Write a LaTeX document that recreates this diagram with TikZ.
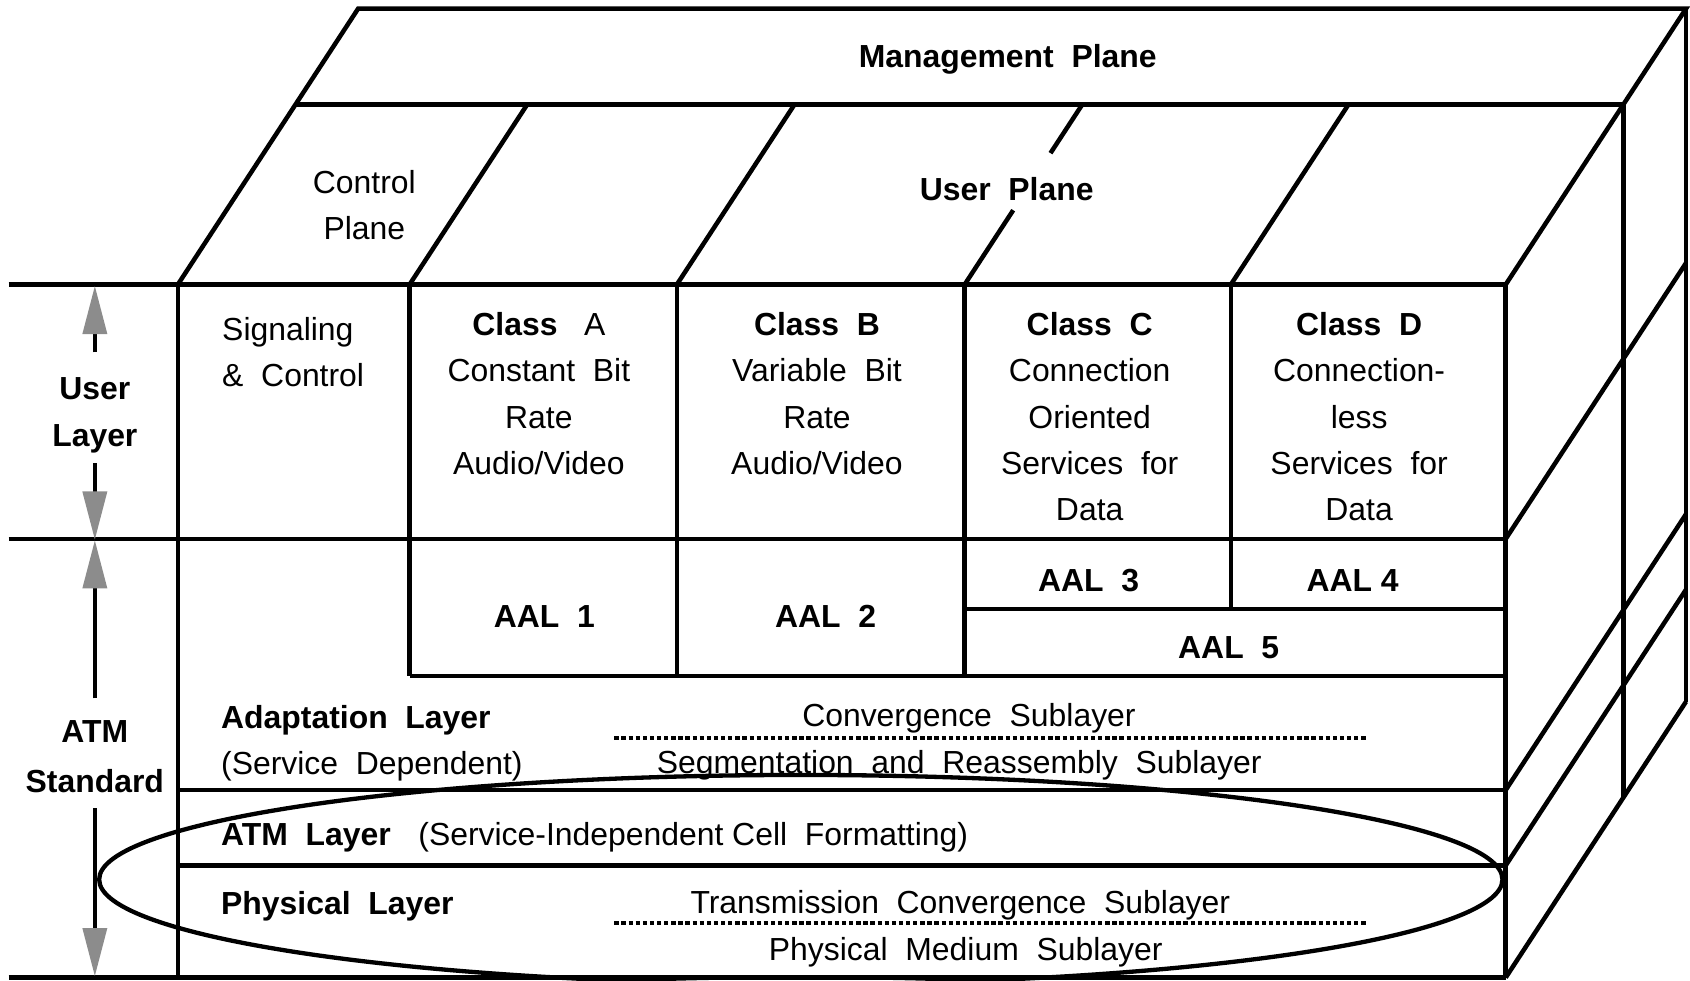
\documentclass[tikz,border=0pt]{standalone}
\usepackage{fontspec}
\setmainfont{Liberation Sans}
\usetikzlibrary{arrows.meta,calc}
\definecolor{arrowgray}{RGB}{140,140,140}
\begin{document}
\begin{tikzpicture}[x=1pt,y=-1pt,
  edge/.style={line width=4.2pt},
  txt/.style={font=\fontsize{29.6}{43}\selectfont, inner sep=0pt, align=center},
  lefttxt/.style={txt, anchor=west, align=left},
  dotline/.style={line width=3.6pt, dash pattern=on 4pt off 2.6pt},
  dimarrow/.style={line width=4.3pt, -{Triangle[length=45pt,width=22pt,color=arrowgray]}},
  oval/.style={line width=4pt}]
\useasboundingbox (0,0) rectangle (1568,910);

% ---- front face coordinates
\coordinate (f0) at (165,264);  \coordinate (fA) at (380,264);
\coordinate (fB) at (628,264);  \coordinate (fC) at (895,264);
\coordinate (fD) at (1142,264); \coordinate (fR) at (1397,264);
% mid depth (top of user/control planes)
\coordinate (m0) at (274.1,97);  \coordinate (mA) at (489.1,97);
\coordinate (mB) at (737.1,97);  \coordinate (mC) at (1004.1,97);
\coordinate (mD) at (1251.1,97); \coordinate (mR) at (1506.1,97);
% back
\coordinate (k0) at (332.3,8); \coordinate (kR) at (1564.3,8);

% ---- top face
\draw[edge] (f0) -- (k0) -- (kR) -- (fR);
\draw[edge] (m0) -- (mR);
\draw[edge] (mA) -- (fA);
\draw[edge] (mB) -- (fB);
\draw[edge] (mC) -- ($(mC)!0.27!(fC)$);
\draw[edge] ($(mC)!0.587!(fC)$) -- (fC);
\draw[edge] (mD) -- (fD);

% ---- left outer guide lines
\coordinate (g1) at (8,264); \coordinate (g2) at (8,500); \coordinate (g3) at (8,907);
\draw[edge] (g1) -- (fR);
\draw[edge] (g2) -- (1397,500);
\draw[edge] (g3) -- (1397,907);

% ---- front face
\draw[edge] (f0) -- (165,907);
\draw[edge] (fR) -- (1397,907);
\draw[edge] (fA) -- (380,627);
\draw[edge] (fB) -- (628,627);
\draw[edge] (fC) -- (895,627);
\draw[edge] (fD) -- (1142,565);
\draw[edge] (895,565) -- (1397,565);
\draw[edge] (380,627) -- (1397,627);
\draw[edge] (165,733) -- (1397,733);
\draw[edge] (165,803) -- (1397,803);

% ---- right face
\draw[edge] (kR) -- (1564.3,651);
\draw[edge] (mR) -- (1506.1,740);
\draw[edge] (1397,500) -- (1564.3,244);
\draw[edge] (1397,733) -- (1564.3,477);
\draw[edge] (1397,803) -- (1564.3,547);
\draw[edge] (1397,907) -- (1564.3,651);

% ---- dotted sublayer separators
\coordinate (d1a) at (570,685); \coordinate (d1b) at (1267,685);
\coordinate (d2a) at (570,856); \coordinate (d2b) at (1267,856);
\draw[dotline] (d1a) -- (d1b);
\draw[dotline] (d2a) -- (d2b);

% ---- ellipse
\draw[oval] (743,816) ellipse [x radius=651pt, y radius=97pt];

% ---- texts
\node[txt] (mgmt) at (935,54) {\strut\bfseries Management~~Plane};
\node[txt] (ctrl) at (338,192) {\strut Control\\\strut Plane};
\node[txt] (user) at (934,177) {\strut\bfseries User~~Plane};
\node[lefttxt] (sig) at (206,328.5) {\strut Signaling\\\strut \&~~Control};
\node[txt] (clA) at (500,367) {\strut\textbf{Class}~~~A\\\strut Constant~~Bit\\\strut Rate\\\strut Audio/Video};
\node[txt] (clB) at (758,367) {\strut\textbf{Class~~B}\\\strut Variable~~Bit\\\strut Rate\\\strut Audio/Video};
\node[txt] (clC) at (1011,388.5) {\strut\textbf{Class~~C}\\\strut Connection\\\strut Oriented\\\strut Services~~for\\\strut Data};
\node[txt] (clD) at (1261,388.5) {\strut\textbf{Class~~D}\\\strut Connection-\\\strut less\\\strut Services~~for\\\strut Data};

\node[txt] (aal1) at (505,574) {\strut\bfseries AAL~~1};
\node[txt] (aal2) at (766,574) {\strut\bfseries AAL~~2};
\node[txt] (aal3) at (1010,540) {\strut\bfseries AAL~~3};
\node[txt] (aal4) at (1255,540) {\strut\bfseries AAL 4};
\node[txt] (aal5) at (1140,602) {\strut\bfseries AAL~~5};

\node[lefttxt] (adapt) at (205,688.5) {\strut\textbf{Adaptation~~Layer}\\\strut(Service~~Dependent)};
\node[txt] (conv) at (899,665) {\strut Convergence~~Sublayer};
\node[txt] (sar) at (890,709) {\strut Segmentation~~and~~Reassembly~~Sublayer};

\node[lefttxt] (atm) at (205,776) {\strut\bfseries ATM~~Layer};
\node[lefttxt] (atmd) at (388,776) {\strut(Service-Independent Cell~~Formatting)};

\node[lefttxt] (phy) at (205,840) {\strut\bfseries Physical~~Layer};
\node[txt] (tc) at (891,839) {\strut Transmission~~Convergence~~Sublayer};
\node[txt] (pm) at (896,883) {\strut Physical~~Medium~~Sublayer};

% ---- dimension labels and arrows
\node[txt] (ul) at (88,384) {\strut\bfseries User\\\strut\bfseries Layer};
\node[txt, font=\fontsize{29.6}{46}\selectfont] (as) at (88,703) {\strut\bfseries ATM\\\strut\bfseries Standard};
\coordinate (ulA) at (88,327); \coordinate (ulTip) at (88,265);
\coordinate (ulB) at (88,430); \coordinate (ulTipB) at (88,501);
\coordinate (asA) at (88,648); \coordinate (asTip) at (88,501);
\coordinate (asB) at (88,750); \coordinate (asTipB) at (88,906);
\draw[dimarrow] (ulA) -- (ulTip);
\draw[dimarrow] (ulB) -- (ulTipB);
\draw[dimarrow] (asA) -- (asTip);
\draw[dimarrow] (asB) -- (asTipB);
\end{tikzpicture}
\end{document}
